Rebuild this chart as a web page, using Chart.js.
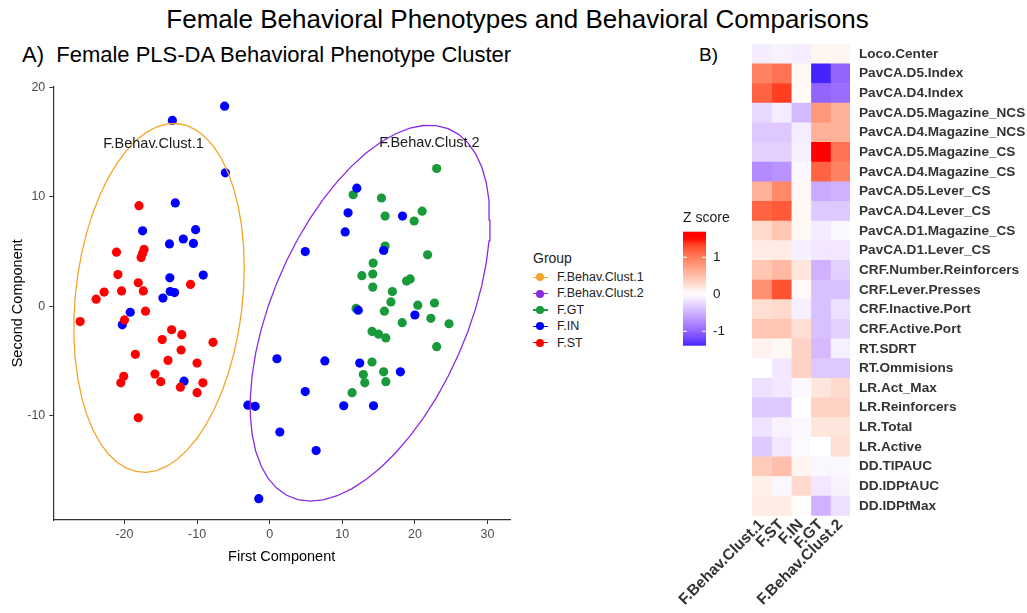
<!DOCTYPE html>
<html>
<head>
<meta charset="utf-8">
<script src="https://cdn.jsdelivr.net/npm/chart.js@4.4.0/dist/chart.umd.min.js"></script>
<style>
  body { margin: 0; width: 1027px; height: 613px; background: #fff; position: relative; overflow: hidden;
         font-family: "Liberation Sans", Arial, sans-serif; }
  .txt { position: absolute; white-space: nowrap; color: #000; }
  #mainTitle { left: 0; width: 1035px; top: 4px; text-align: center; font-size: 26px; line-height: 30px; }
  #titleA { left: 22px; top: 42px; font-size: 22px; line-height: 26px; }
  #titleB { left: 699px; top: 43px; font-size: 19px; line-height: 24px; }
  #scatterBox { position: absolute; left: 0; top: 75px; width: 515px; height: 500px; }
  #heatBox { position: absolute; left: 660px; top: 30px; width: 367px; height: 583px; }
  #legend { position: absolute; left: 533px; top: 247px; }
  #legend .head { font-size: 14px; line-height: 22px; color: #222; }
  #legend .item { position: relative; height: 16.4px; font-size: 12.5px; line-height: 16.4px; color: #222; padding-left: 24px; }
  #legend .item .ln { position: absolute; left: 0; top: 7.5px; width: 15px; height: 1.4px; }
  #legend .item .dot { position: absolute; left: 3px; top: 4.2px; width: 8px; height: 8px; border-radius: 50%; }
</style>
</head>
<body>
<div id="mainTitle" class="txt">Female Behavioral Phenotypes and Behavioral Comparisons</div>
<div id="titleA" class="txt">A)&nbsp; Female PLS-DA Behavioral Phenotype Cluster</div>
<div id="titleB" class="txt">B)</div>
<div id="scatterBox"><canvas id="scatter"></canvas></div>
<div id="legend"></div>
<div id="heatBox"><canvas id="heat"></canvas></div>
<script>
// ---- panel A data (PLS-DA scores) ----
const stX = [-18.0, -21.1, -17.3, -17.5, -17.7, -20.9, -18.1, -10.9, -22.8, -20.4, -17.4, -23.9, -26.1, -20.0, -17.1, -13.5,
             -12.1, -14.8, -7.8, -12.2, -18.5, -14.0, -10.0, -20.1, -20.5, -15.8, -15.0, -12.3, -9.2, -10.0, -18.1];
const stY = [9.2, 4.95, 5.2, 4.85, 4.45, 2.9, 2.15, 2.0, 1.3, 1.4, 1.4, 0.65, -1.4, -1.25, -0.45, -2.15,
             -2.6, -3.05, -3.3, -4.0, -4.4, -4.95, -5.2, -6.4, -7.0, -6.2, -6.9, -7.4, -7.0, -7.9, -10.2];
const gtX = [23.0, 11.5, 15.4, 15.9, 21.0, 19.9, 15.9, 21.75, 14.25, 12.7, 14.2, 18.85, 19.35, 14.2, 16.9, 16.7, 20.4,
             22.7, 15.8, 11.9, 22.2, 24.7, 18.25, 14.1, 15.0, 16.0, 23.0, 14.1, 15.7, 12.9, 13.1, 16.0, 11.35];
const gtY = [12.6, 10.2, 9.9, 8.25, 8.7, 7.8, 5.5, 4.7, 3.95, 2.8, 2.95, 2.3, 2.5, 1.75, 1.35, 0.4, 0.1,
             0.3, -0.45, -0.2, -1.1, -1.6, -1.5, -2.3, -2.55, -2.9, -3.7, -5.1, -6.0, -6.25, -7.0, -6.9, -7.9];
const inX = [-13.4, -6.2, -6.1, -13.0, -17.5, -10.2, -11.9, -10.5, -13.8, -9.15, -13.75, -13.7, -13.1, -14.7, -19.2, -20.3, -11.8,
             -3.0, -2.0, -1.5, 12.0, 10.8, 18.3, 10.4, 4.9, 15.7, 12.2, 20.0, 1.0, 7.6, 12.4, 18.0, 4.9, 10.2, 14.3, 1.4, 6.4];
const inY = [17.0, 18.3, 12.2, 9.45, 6.9, 7.0, 6.15, 5.75, 5.7, 2.85, 2.6, 1.35, 1.25, 0.75, -0.55, -1.7, -6.85,
             -9.05, -9.15, -17.6, 10.8, 8.55, 8.25, 6.8, 5.0, 5.1, -0.36, -0.8, -4.8, -5.0, -5.2, -6.0, -7.8, -9.1, -9.1, -11.5, -13.2];
// behavioural cluster of each F.IN animal (F.ST all in cluster 1, F.GT all in cluster 2)
const inClust = [1, 1, 1, 1, 1, 1, 1, 1, 1, 1, 1, 1, 1, 1, 1, 1, 1,
                 2, 2, 2, 2, 2, 2, 2, 2, 2, 2, 2, 2, 2, 2, 2, 2, 2, 2, 2, 2];

const clusterNames = ['F.Behav.Clust.1', 'F.Behav.Clust.2'];
const clusterLabelX = [-16.0, 22.0];
const clusterLabelY = [14.8, 14.9];
const legendNames = ['F.Behav.Clust.1', 'F.Behav.Clust.2', 'F.GT', 'F.IN', 'F.ST'];
const legendColors = ['#F5A52A', '#8A2BE2', '#18993A', '#0000FF', '#FF0000'];

// ---- panel B data (z scores per behaviour and group) ----
const heatCols = ['F.Behav.Clust.1', 'F.ST', 'F.IN', 'F.GT', 'F.Behav.Clust.2'];
const heatRows = ['Loco.Center', 'PavCA.D5.Index', 'PavCA.D4.Index', 'PavCA.D5.Magazine_NCS', 'PavCA.D4.Magazine_NCS',
  'PavCA.D5.Magazine_CS', 'PavCA.D4.Magazine_CS', 'PavCA.D5.Lever_CS', 'PavCA.D4.Lever_CS', 'PavCA.D1.Magazine_CS',
  'PavCA.D1.Lever_CS', 'CRF.Number.Reinforcers', 'CRF.Lever.Presses', 'CRF.Inactive.Port', 'CRF.Active.Port',
  'RT.SDRT', 'RT.Ommisions', 'LR.Act_Max', 'LR.Reinforcers', 'LR.Total', 'LR.Active', 'DD.TIPAUC', 'DD.IDPtAUC', 'DD.IDPtMax'];
const zScores = [
  [-0.12, -0.08, -0.12, 0.08, 0.08],
  [0.95, 1.05, 0.05, -1.39, -1.0],
  [1.15, 1.35, 0.04, -1.0, -0.95],
  [-0.25, -0.12, -0.45, 0.8, 0.6],
  [-0.35, -0.35, -0.12, 0.6, 0.6],
  [-0.3, -0.3, -0.1, 1.69, 1.05],
  [-0.75, -0.7, -0.04, 1.15, 0.95],
  [0.6, 0.9, 0.06, -0.55, -0.5],
  [1.15, 1.2, 0.06, -0.35, -0.35],
  [0.3, 0.45, 0.05, -0.12, -0.05],
  [0.15, 0.15, -0.1, -0.15, -0.15],
  [0.45, 0.55, 0.2, -0.5, -0.3],
  [0.85, 1.25, 0.04, -0.4, -0.4],
  [0.25, 0.3, -0.1, -0.4, -0.2],
  [0.45, 0.45, 0.25, -0.4, -0.3],
  [0.1, 0.05, 0.35, -0.45, -0.1],
  [0.0, -0.15, 0.35, -0.35, -0.35],
  [-0.2, -0.15, -0.04, 0.2, 0.3],
  [-0.35, -0.35, 0.0, 0.35, 0.35],
  [-0.18, -0.08, -0.04, 0.2, 0.2],
  [-0.35, -0.15, -0.03, 0.0, 0.25],
  [0.4, 0.5, 0.08, -0.05, -0.05],
  [0.12, -0.05, 0.3, -0.15, -0.08],
  [0.15, 0.15, 0.02, -0.5, -0.2]
];
const zTicks = [-1, 0, 1];
const zSaturate = 1.5;   // |z| at which the colour reaches full blue / red

const FONT = '"Liberation Sans", Arial, sans-serif';

// ---- helpers ----
function toPoints(xs, ys) { return xs.map((x, i) => ({x: x, y: ys[i]})); }

// 95% normal data ellipse, same recipe as ggplot2::stat_ellipse(type = "norm")
function dataEllipse(pts) {
  const n = pts.length;
  const c = [0, 0];
  pts.forEach(p => { c[0] += p[0] / n; c[1] += p[1] / n; });
  let sxx = 0, sxy = 0, syy = 0;
  pts.forEach(p => {
    const dx = p[0] - c[0], dy = p[1] - c[1];
    sxx += dx * dx; sxy += dx * dy; syy += dy * dy;
  });
  sxx /= n - 1; sxy /= n - 1; syy /= n - 1;
  const dfd = n - 1;
  const fq = (dfd / 2) * (Math.pow(0.05, -2 / dfd) - 1);   // qf(0.95, 2, dfd)
  const r = Math.sqrt(2 * fq);
  const a = Math.sqrt(sxx), b = sxy / a, d = Math.sqrt(syy - b * b);
  const out = [];
  for (let k = 0; k <= 51; k++) {
    const t = k * 2 * Math.PI / 51;
    out.push({x: c[0] + r * a * Math.cos(t), y: c[1] + r * (b * Math.cos(t) + d * Math.sin(t))});
  }
  return out;
}

const clust1 = [], clust2 = [];
stX.forEach((x, i) => clust1.push([x, stY[i]]));
gtX.forEach((x, i) => clust2.push([x, gtY[i]]));
inX.forEach((x, i) => (inClust[i] === 1 ? clust1 : clust2).push([x, inY[i]]));

// ---- legend for panel A ----
const legendEl = document.getElementById('legend');
legendEl.innerHTML = '<div class="head">Group</div>' + legendNames.map((nm, i) =>
  '<div class="item"><span class="ln" style="background:' + legendColors[i] + '"></span>' +
  '<span class="dot" style="background:' + legendColors[i] + '"></span>' + nm + '</div>').join('');

const clusterLabels = {
  id: 'clusterLabels',
  afterDatasetsDraw(chart) {
    const {ctx, scales: {x, y}} = chart;
    ctx.save();
    ctx.font = '14.5px ' + FONT;
    ctx.fillStyle = '#1a1a1a';
    ctx.textAlign = 'center';
    ctx.textBaseline = 'middle';
    clusterNames.forEach((nm, i) => ctx.fillText(nm, x.getPixelForValue(clusterLabelX[i]), y.getPixelForValue(clusterLabelY[i])));
    ctx.restore();
  }
};

new Chart(document.getElementById('scatter'), {
  type: 'scatter',
  data: {
    datasets: [
      {type: 'line', label: clusterNames[0], data: dataEllipse(clust1), borderColor: legendColors[0], borderWidth: 1.3,
       pointRadius: 0, fill: false, tension: 0},
      {type: 'line', label: clusterNames[1], data: dataEllipse(clust2), borderColor: legendColors[1], borderWidth: 1.3,
       pointRadius: 0, fill: false, tension: 0},
      {label: 'F.ST', data: toPoints(stX, stY), backgroundColor: legendColors[4], borderWidth: 0, pointRadius: 4.6},
      {label: 'F.IN', data: toPoints(inX, inY), backgroundColor: legendColors[3], borderWidth: 0, pointRadius: 4.6},
      {label: 'F.GT', data: toPoints(gtX, gtY), backgroundColor: legendColors[2], borderWidth: 0, pointRadius: 4.6}
    ]
  },
  options: {
    responsive: true,
    maintainAspectRatio: false,
    animation: false,
    layout: {padding: {top: 8.9, right: 5, left: 0, bottom: 0}},
    plugins: {legend: {display: false}, tooltip: {enabled: false}},
    scales: {
      x: {
        type: 'linear', min: -29.8, max: 33.1,
        afterFit: s => { s.height = 55; },
        ticks: {stepSize: 10, includeBounds: false, color: '#4d4d4d', font: {family: FONT, size: 12.5}, padding: 3},
        grid: {drawOnChartArea: false, tickLength: 4, color: '#333', lineWidth: 1},
        border: {color: '#333', width: 1.2},
        title: {display: true, text: 'First Component', color: '#000', font: {family: FONT, size: 14.5}, padding: {bottom: 9}}
      },
      y: {
        type: 'linear', min: -19.55, max: 20.1,
        afterFit: s => { s.width = 53.3; },
        ticks: {stepSize: 10, includeBounds: false, color: '#4d4d4d', font: {family: FONT, size: 12.5}, padding: 4},
        grid: {drawOnChartArea: false, tickLength: 4, color: '#333', lineWidth: 1},
        border: {color: '#333', width: 1.2},
        title: {display: true, text: 'Second Component', color: '#000', font: {family: FONT, size: 14.5}, padding: {top: 9}}
      }
    }
  },
  plugins: [clusterLabels]
});

// ---- panel B: colour scale (blue - white - red, interpolated in CIELAB) ----
const WP = [0.95047, 1, 1.08883];
function lin(c) { return c <= 0.04045 ? c / 12.92 : Math.pow((c + 0.055) / 1.055, 2.4); }
function unlin(c) { return c <= 0.0031308 ? 12.92 * c : 1.055 * Math.pow(c, 1 / 2.4) - 0.055; }
function toLab(hex) {
  const [r, g, b] = [1, 3, 5].map(i => lin(parseInt(hex.slice(i, i + 2), 16) / 255));
  const X = (0.4124564 * r + 0.3575761 * g + 0.1804375 * b) / WP[0];
  const Y = (0.2126729 * r + 0.7151522 * g + 0.0721750 * b) / WP[1];
  const Z = (0.0193339 * r + 0.1191920 * g + 0.9503041 * b) / WP[2];
  const f = t => t > 0.008856 ? Math.cbrt(t) : (7.787 * t + 16 / 116);
  return [116 * f(Y) - 16, 500 * (f(X) - f(Y)), 200 * (f(Y) - f(Z))];
}
function fromLab(L, a, b) {
  const fy = (L + 16) / 116, fx = fy + a / 500, fz = fy - b / 200;
  const inv = t => t * t * t > 0.008856 ? t * t * t : (t - 16 / 116) / 7.787;
  const X = inv(fx) * WP[0], Y = inv(fy) * WP[1], Z = inv(fz) * WP[2];
  const rgb = [3.2404542 * X - 1.5371385 * Y - 0.4985314 * Z,
               -0.9692660 * X + 1.8760108 * Y + 0.0415560 * Z,
               0.0556434 * X - 0.2040259 * Y + 1.0572252 * Z];
  return 'rgb(' + rgb.map(c => Math.round(255 * Math.min(1, Math.max(0, unlin(Math.max(0, c)))))).join(',') + ')';
}
const labLow = toLab('#0000FF'), labMid = toLab('#FFFFFF'), labHigh = toLab('#FF0000');
const allZ = zScores.flat();
const zMin = Math.min(...allZ), zMax = Math.max(...allZ);
function zColor(z) {
  const t = Math.min(1, Math.abs(z) / zSaturate);
  const end = z < 0 ? labLow : labHigh;
  return fromLab(labMid[0] + (end[0] - labMid[0]) * t, labMid[1] + (end[1] - labMid[1]) * t, labMid[2] + (end[2] - labMid[2]) * t);
}

const colourBar = {
  id: 'colourBar',
  afterDraw(chart) {
    const ctx = chart.ctx;
    const x0 = 23, w = 23, top = 201.7, bot = 315.7;
    const yOf = z => top + (zMax - z) / (zMax - zMin) * (bot - top);
    ctx.save();
    const grad = ctx.createLinearGradient(0, top, 0, bot);
    for (let k = 0; k <= 30; k++) {
      const z = zMax - (zMax - zMin) * k / 30;
      grad.addColorStop(k / 30, zColor(z));
    }
    ctx.fillStyle = grad;
    ctx.fillRect(x0, top, w, bot - top);
    ctx.strokeStyle = '#fff';
    ctx.lineWidth = 1;
    ctx.fillStyle = '#1a1a1a';
    ctx.font = '14px ' + FONT;
    ctx.textAlign = 'left';
    ctx.textBaseline = 'middle';
    ctx.fillText('Z score', x0, 188);
    ctx.font = '13.5px ' + FONT;
    zTicks.forEach(z => {
      const y = yOf(z);
      ctx.beginPath();
      ctx.moveTo(x0, y); ctx.lineTo(x0 + 4, y);
      ctx.moveTo(x0 + w - 4, y); ctx.lineTo(x0 + w, y);
      ctx.stroke();
      ctx.fillText(String(z), x0 + w + 7, y);
    });
    ctx.restore();
  }
};

new Chart(document.getElementById('heat'), {
  type: 'bar',
  data: {
    labels: heatRows,
    datasets: heatCols.map((col, j) => ({
      label: col,
      data: heatRows.map(() => 1),
      backgroundColor: zScores.map(r => zColor(r[j])),
      borderWidth: 0,
      barPercentage: 1,
      categoryPercentage: 1
    }))
  },
  options: {
    indexAxis: 'y',
    responsive: true,
    maintainAspectRatio: false,
    animation: false,
    layout: {padding: {left: 92, top: 14.2, right: 0, bottom: 0}},
    plugins: {legend: {display: false}, tooltip: {enabled: false}},
    scales: {
      x: {
        type: 'linear', stacked: true, min: 0, max: 5,
        afterFit: s => { s.height = 97.2; },
        afterBuildTicks: s => { s.ticks = heatCols.map((c, i) => ({value: i + 0.5})); },
        ticks: {callback: (v, i) => heatCols[i], minRotation: 45, maxRotation: 45, autoSkip: false,
                color: '#333', font: {family: FONT, size: 15.5, weight: 'bold'}, padding: 0},
        grid: {display: false, drawTicks: false, tickLength: 0},
        border: {display: false}
      },
      y: {
        stacked: true, position: 'right',
        afterFit: s => { s.width = 177; },
        ticks: {color: '#333', font: {family: FONT, size: 13.6, weight: 'bold'}, padding: 0, autoSkip: false},
        grid: {display: false, drawTicks: true, tickLength: 9},
        border: {display: false}
      }
    }
  },
  plugins: [colourBar]
});
</script>
</body>
</html>
